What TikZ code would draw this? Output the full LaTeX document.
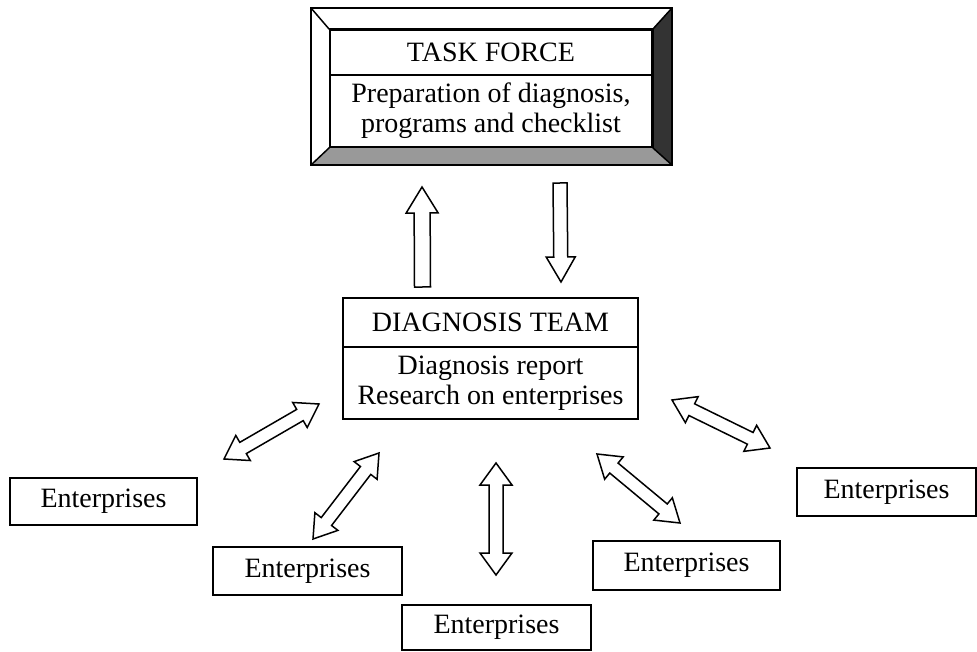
\documentclass[tikz,border=0pt]{standalone}
\usepackage{fontspec}
\setmainfont{Liberation Serif}
\usetikzlibrary{calc}

% hollow block arrow with a head at both ends:
% #1,#2 end points, #3 half shaft width, #4 half head width, #5 head length
\newcommand\blkdouble[5]{%
  \path coordinate (hA) at ($(#1)!#5!(#2)$) coordinate (hB) at ($(#2)!#5!(#1)$);
  \draw[blk] (#1) -- ($(hA)!#4!90:(#2)$) -- ($(hA)!#3!90:(#2)$)
    -- ($(hB)!#3!-90:(#1)$) -- ($(hB)!#4!-90:(#1)$) -- (#2)
    -- ($(hB)!#4!90:(#1)$) -- ($(hB)!#3!90:(#1)$)
    -- ($(hA)!#3!-90:(#2)$) -- ($(hA)!#4!-90:(#2)$) -- cycle;}

% hollow block arrow from tail #1 to tip #2
\newcommand\blksingle[5]{%
  \path coordinate (hB) at ($(#2)!#5!(#1)$);
  \draw[blk] ($(#1)!#3!90:(#2)$) -- ($(hB)!#3!-90:(#1)$) -- ($(hB)!#4!-90:(#1)$)
    -- (#2) -- ($(hB)!#4!90:(#1)$) -- ($(hB)!#3!90:(#1)$)
    -- ($(#1)!#3!-90:(#2)$) -- cycle;}

\begin{document}
\begin{tikzpicture}[x=1pt,y=-1pt,
  line/.style={line width=1.5pt},
  box/.style={draw, line width=1.5pt, inner sep=0pt, align=center,
              font=\fontsize{28}{30}\selectfont},
  blk/.style={draw, line width=1.5pt, fill=white, line join=miter},
  bevellight/.style={fill=black!40},
  beveldark/.style={fill=black!80}]
\useasboundingbox (0,0) rectangle (977,652);

% ---- Task force (framed panel) ----
\node[box, minimum width=322, minimum height=45] (tfhead) at (491,52.5) {TASK FORCE};
\node[box, minimum width=322, minimum height=72] (tfbody) at (491,111)
  {Preparation of diagnosis,\\programs and checklist};
\coordinate (o1) at (311,8);
\coordinate (o2) at (672,8);
\coordinate (o3) at (672,165);
\coordinate (o4) at (311,165);
\fill[beveldark] (tfhead.north east) -- (o2) -- (o3) -- (tfbody.south east) -- cycle;
\fill[bevellight] (tfbody.south west) -- (tfbody.south east) -- (o3) -- (o4) -- cycle;
\draw[line] (o1) rectangle (o3);
\draw[line] (o1) -- (tfhead.north west) (o2) -- (tfhead.north east)
            (o3) -- (tfbody.south east) (o4) -- (tfbody.south west);
\draw[line] (tfhead.north west) rectangle (tfbody.south east);
\draw[line] (tfhead.south west) -- (tfhead.south east);

% ---- Diagnosis team ----
\node[box, minimum width=295, minimum height=49] (dthead) at (490.5,322.5) {DIAGNOSIS TEAM};
\node[box, minimum width=295, minimum height=72] (dtbody) at (490.5,383)
  {Diagnosis report\\Research on enterprises};

% ---- Enterprises ----
\node[box, minimum width=187, minimum height=47] (e1) at (103.5,501.5) {Enterprises};
\node[box, minimum width=189, minimum height=48] (e2) at (307.5,571) {Enterprises};
\node[box, minimum width=189, minimum height=45] (e3) at (496.5,627.5) {Enterprises};
\node[box, minimum width=187, minimum height=49] (e4) at (686.5,565.5) {Enterprises};
\node[box, minimum width=179, minimum height=48] (e5) at (886.5,492) {Enterprises};

% ---- arrow end points ----
\coordinate (up1) at (422.5,287);  \coordinate (up2) at (422,187);
\coordinate (dn1) at (560,183);    \coordinate (dn2) at (561,282);
\coordinate (a1s) at (319,404);    \coordinate (a1e) at (224,459);
\coordinate (a2s) at (379,453);    \coordinate (a2e) at (313,539);
\coordinate (a3s) at (496,463);    \coordinate (a3e) at (496,575);
\coordinate (a4s) at (597,454);    \coordinate (a4e) at (680,523);
\coordinate (a5s) at (672,400);    \coordinate (a5e) at (770,448);

% ---- arrows ----
\blksingle{up1}{up2}{8pt}{16pt}{26pt}
\blksingle{dn1}{dn2}{7pt}{14.5pt}{25pt}
\blkdouble{a1s}{a1e}{6.5pt}{14.5pt}{22pt}
\blkdouble{a2s}{a2e}{6.5pt}{14.5pt}{22pt}
\blkdouble{a3s}{a3e}{7pt}{16pt}{22pt}
\blkdouble{a4s}{a4e}{6.5pt}{14.5pt}{22pt}
\blkdouble{a5s}{a5e}{6.5pt}{14.5pt}{22pt}
\end{tikzpicture}
\end{document}
